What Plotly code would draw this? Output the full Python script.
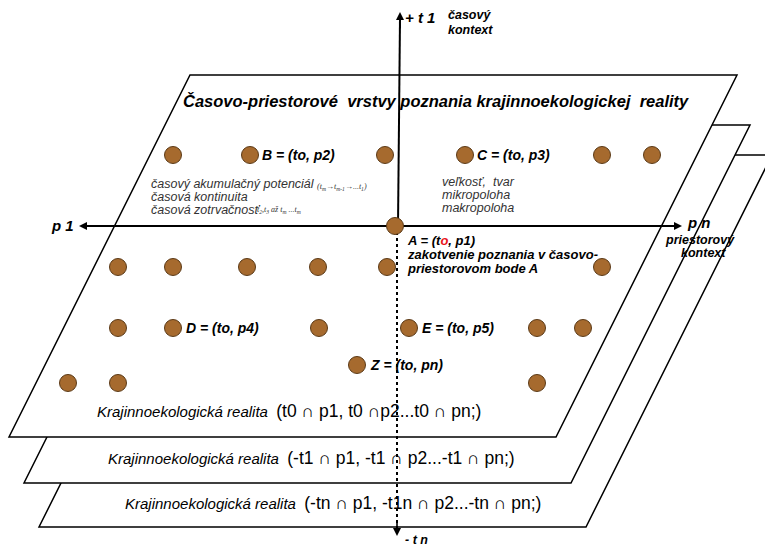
import plotly.graph_objects as go

W, H = 765, 551

# --- diagram data (pixel coordinates of the source diagram) ---
point_x = [173, 250, 385, 465, 602, 652,
           395,
           118, 173, 247, 318, 387, 602,
           118, 173, 319, 409, 537, 583,
           357,
           68, 118, 537]
point_y = [155, 155, 155, 155, 155, 155,
           226,
           267, 267, 267, 267, 267, 267,
           328, 328, 328, 328, 328, 328,
           365,
           383, 383, 383]

# planes: top-left x, top y, bottom y, common width, horizontal slant
plane_top_left_x = [190, 203, 225]
plane_top_y = [75, 125, 155]
plane_bottom_y = [437, 483, 527]
plane_width = 547
plane_slant = [181, 179, 186]

point_labels = ["B = (to, p2)", "C = (to, p3)", "D = (to, p4)", "E = (to, p5)", "Z = (to, pn)"]
point_label_x = [261, 476, 185, 421, 369]
point_label_y = [155, 155, 328, 328, 365]

reality_italic = ["Krajinnoekologická realita"] * 3
reality_sets = ["(t0 ∩ p1, t0 ∩p2...t0 ∩ pn;)",
                "(-t1 ∩ p1, -t1 ∩ p2...-t1 ∩ pn;)",
                "(-tn ∩ p1, -t1n ∩ p2...-tn ∩ pn;)"]
reality_x = [96, 107, 124]
reality_y = [411, 458, 503]

left_block = ["časový akumulačný potenciál", "časová kontinuita", "časová zotrvačnosť"]
right_block = ["veľkosť,  tvar", "mikropoloha", "makropoloha"]

ARIAL = "Liberation Sans, Arial, sans-serif"
SERIF = "Liberation Serif, Times New Roman, serif"

fig = go.Figure()

shapes = []
for i in [2, 1, 0]:
    tlx = plane_top_left_x[i]
    ty = plane_top_y[i]
    by = plane_bottom_y[i]
    s = plane_slant[i]
    path = (f"M {tlx},{ty} L {tlx + plane_width},{ty} "
            f"L {tlx + plane_width - s},{by} L {tlx - s},{by} Z")
    shapes.append(dict(type="path", path=path, xref="x", yref="y",
                       fillcolor="white", line=dict(color="black", width=1.5),
                       layer="below"))

# axes
shapes.append(dict(type="line", x0=400, y0=18, x1=398, y1=226, xref="x", yref="y",
                   line=dict(color="black", width=2), layer="below"))
shapes.append(dict(type="line", x0=397, y0=226, x1=397, y1=530, xref="x", yref="y",
                   line=dict(color="black", width=2, dash="dot"), layer="below"))
shapes.append(dict(type="line", x0=84, y0=226, x1=676, y1=226, xref="x", yref="y",
                   line=dict(color="black", width=2), layer="below"))

fig.add_trace(go.Scatter(
    x=point_x, y=point_y, mode="markers",
    marker=dict(size=17, color="#A66A2E", line=dict(color="#5B3A17", width=1)),
    hoverinfo="skip", showlegend=False))

ann = []

def txt(x, y, text, size, family=ARIAL, color="black", xanchor="left", yanchor="middle"):
    ann.append(dict(x=x, y=y, xref="x", yref="y", text=text, showarrow=False,
                    xanchor=xanchor, yanchor=yanchor, borderpad=0,
                    font=dict(size=size, family=family, color=color)))

def arrow(x, y, ax, ay):
    ann.append(dict(x=x, y=y, ax=ax, ay=ay, xref="x", yref="y", axref="x", ayref="y",
                    text="", showarrow=True, arrowhead=2, arrowsize=1, arrowwidth=1.6,
                    arrowcolor="black"))

arrow(400, 12, 400, 30)
arrow(397, 536, 397, 520)
arrow(79, 226, 97, 226)
arrow(682, 226, 664, 226)

# title
txt(182, 101, "<b><i>Časovo-priestorové  vrstvy poznania krajinnoekologickej  reality</i></b>", 16.5)

# point labels
for lab, lx, ly in zip(point_labels, point_label_x, point_label_y):
    txt(lx, ly, f"<b><i>{lab}</i></b>", 14)

# A label
txt(406, 240, "<b><i>A = (t<span style='color:#E8141B'>o</span>, p1)</i></b>", 13)
txt(406, 254, "<b><i>zakotvenie poznania v časovo-</i></b>", 13)
txt(406, 268, "<b><i>priestorovom bode A</i></b>", 13)

# left explanatory block
for i, t in enumerate(left_block):
    txt(150, 184 + 13 * i, f"<i>{t}</i>", 12.5, color="#333333")
txt(316, 187, "<i>(t<sub>m</sub>→t<sub>m-1</sub>→...t<sub>1</sub>)</i>", 8, family=SERIF, color="#333333")
txt(256, 210, "<i>t<sub>2</sub>,t<sub>3</sub> až t<sub>m</sub> ...t<sub>m</sub></i>", 8, family=SERIF, color="#333333")

# right explanatory block
for i, t in enumerate(right_block):
    txt(441, 182 + 13 * i, f"<i>{t}</i>", 12.5, color="#333333")

# axis labels
txt(404, 17, "<b><i>+ t 1</i></b>", 15)
txt(447, 15, "<b><i>časový</i></b>", 12.5)
txt(447, 30, "<b><i>kontext</i></b>", 12.5)
txt(50, 225, "<b><i>p 1</i></b>", 15)
txt(686, 222, "<b><i>p n</i></b>", 15)
txt(664, 240, "<b><i>priestorový</i></b>", 12.5)
txt(680, 253, "<b><i>kontext</i></b>", 12.5)
txt(404, 540, "<b><i>- t n</i></b>", 12.5)

# reality labels
for a, b, rx, ry in zip(reality_italic, reality_sets, reality_x, reality_y):
    txt(rx, ry, f"<i>{a}</i>  <span style='font-size:17.5px'>{b}</span>", 15)

fig.update_layout(
    width=W, height=H,
    margin=dict(l=0, r=0, t=0, b=0),
    paper_bgcolor="white", plot_bgcolor="white",
    xaxis=dict(range=[0, W], visible=False, fixedrange=True),
    yaxis=dict(range=[H, 0], visible=False, fixedrange=True),
    shapes=shapes, annotations=ann, showlegend=False,
)

fig.write_html("out.html", config={"displayModeBar": False},
               post_script="document.body.style.margin='0';document.body.style.overflow='hidden';")
